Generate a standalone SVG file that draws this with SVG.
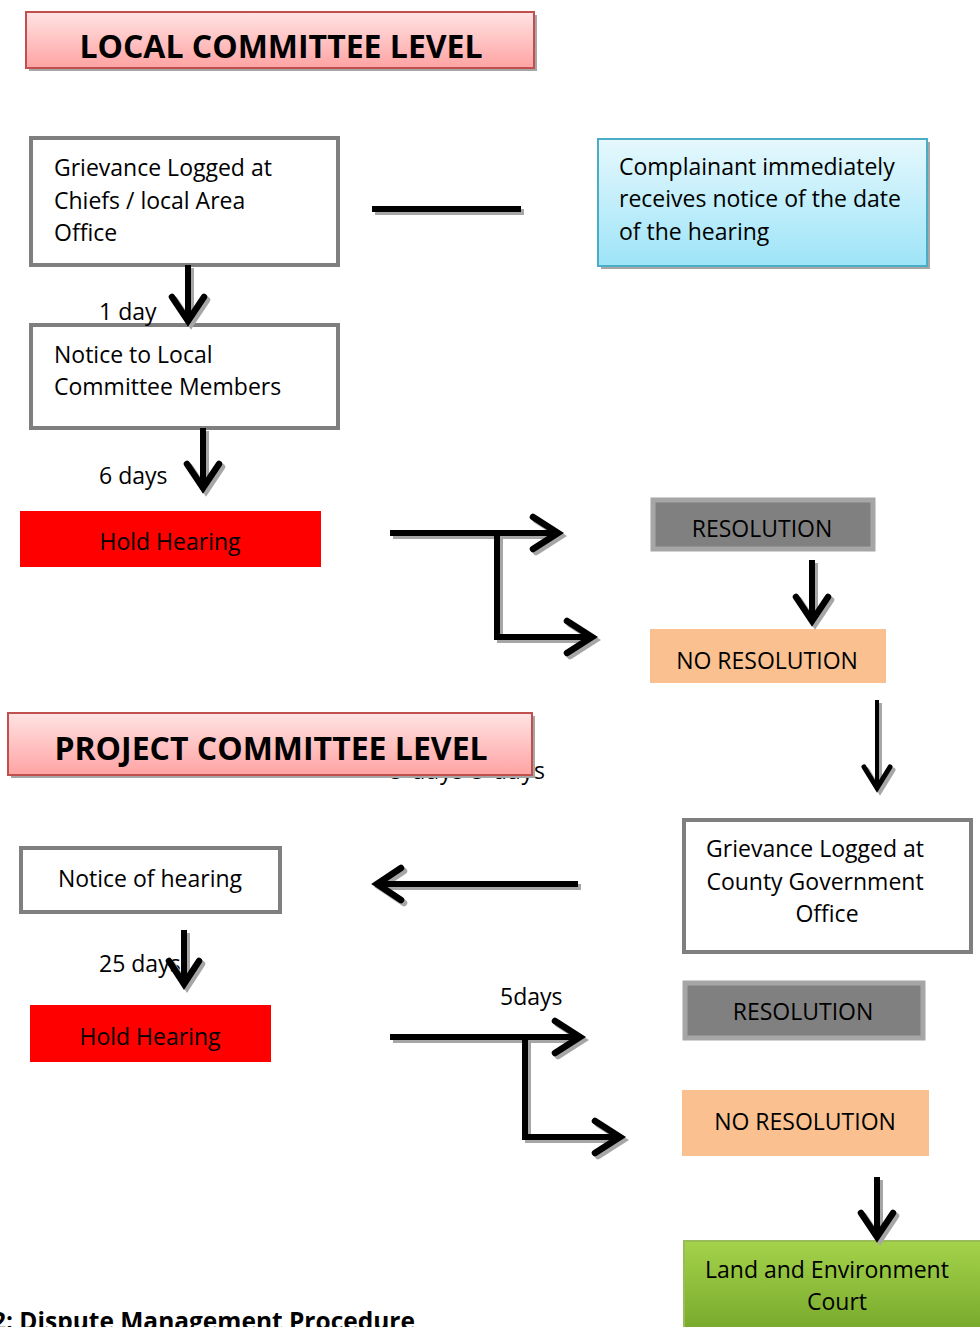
<svg xmlns="http://www.w3.org/2000/svg" width="980" height="1327" viewBox="0 0 980 1327">
<defs>
<linearGradient id="gPink" x1="0" y1="0" x2="0" y2="1"><stop offset="0" stop-color="#ffe3e3"/><stop offset="1" stop-color="#ffa3a3"/></linearGradient>
<linearGradient id="gCyan" x1="0" y1="0" x2="0" y2="1"><stop offset="0" stop-color="#e6f8fd"/><stop offset="1" stop-color="#9de4f8"/></linearGradient>
<linearGradient id="gGreen" x1="0" y1="0" x2="0" y2="1"><stop offset="0" stop-color="#a4d24a"/><stop offset="1" stop-color="#78a92c"/></linearGradient>
<style>
text{font-family:"Open Sans","Liberation Sans",sans-serif;fill:#000;font-size:23px}
.hdr{font-weight:bold;font-size:32px}
.cap{font-weight:bold;font-size:24.5px}
.mid{text-anchor:middle}
.gbox{fill:#fff;stroke:#7f7f7f;stroke-width:4}
.shadow{fill:#a6a6a6}
.hbox{fill:url(#gPink);stroke:#c0504d;stroke-width:2}
.res{fill:#808080;stroke:#a6a6a6;stroke-width:5}
.nores{fill:#fac090}
.red{fill:#ff0000}
.ink{fill:none;stroke:#000;stroke-width:6;stroke-linejoin:miter;stroke-linecap:butt}
.sh{fill:none;stroke:#a6a6a6;stroke-width:6;stroke-linejoin:miter;stroke-linecap:butt}
.head{stroke-linecap:round;stroke-width:6.5}
</style>
</defs>
<rect width="980" height="1327" fill="#fff"/>

<g id="hdr-local">
<rect class="shadow" x="29" y="15" width="508" height="56"/>
<rect class="hbox" x="26" y="12" width="508" height="56"/>
<text class="hdr mid" x="281" y="58">LOCAL COMMITTEE LEVEL</text>
</g>

<g id="n-grievance-local">
<rect class="gbox" x="31" y="138" width="307" height="127"/>
<text x="54" y="176">Grievance Logged at</text>
<text x="54" y="209">Chiefs / local Area</text>
<text x="54" y="241">Office</text>
</g>

<g id="n-complainant">
<rect class="shadow" x="601" y="142" width="329" height="127"/>
<rect x="598" y="139" width="329" height="127" fill="url(#gCyan)" stroke="#4bacc6" stroke-width="2"/>
<text x="619" y="175">Complainant immediately</text>
<text x="619" y="207">receives notice of the date</text>
<text x="619" y="240">of the hearing</text>
</g>

<g id="n-notice-local">
<rect class="gbox" x="31" y="325" width="307" height="103"/>
<text x="54" y="363">Notice to Local</text>
<text x="54" y="395">Committee Members</text>
</g>

<g id="n-hold1">
<rect class="red" x="20" y="511" width="301" height="56"/>
<text class="mid" x="170" y="550">Hold Hearing</text>
</g>

<g id="n-res1">
<rect class="res" x="653" y="500" width="220" height="49"/>
<text class="mid" x="762" y="537">RESOLUTION</text>
</g>

<g id="n-nores1">
<rect class="nores" x="650" y="629" width="236" height="54"/>
<text class="mid" x="767" y="669">NO RESOLUTION</text>
</g>

<g id="lbl-hidden">
<text x="390" y="779" textLength="155" lengthAdjust="spacing">5 days   5 days</text>
</g>

<g id="hdr-project">
<rect class="shadow" x="11" y="716" width="524" height="62"/>
<rect class="hbox" x="8" y="713" width="524" height="62"/>
<text class="hdr mid" x="271" y="760">PROJECT COMMITTEE LEVEL</text>
</g>

<g id="n-notice-hearing">
<rect class="gbox" x="21" y="848" width="259" height="64"/>
<text class="mid" x="150" y="887">Notice of hearing</text>
</g>

<g id="n-grievance-county">
<rect class="gbox" x="684" y="820" width="287" height="132"/>
<text class="mid" x="815" y="857">Grievance Logged at</text>
<text class="mid" x="815" y="890">County Government</text>
<text class="mid" x="827" y="922">Office</text>
</g>

<g id="n-hold2">
<rect class="red" x="30" y="1005" width="241" height="57"/>
<text class="mid" x="150" y="1045">Hold Hearing</text>
</g>

<g id="n-res2">
<rect class="res" x="685" y="983" width="238" height="55"/>
<text class="mid" x="803" y="1020">RESOLUTION</text>
</g>

<g id="n-nores2">
<rect class="nores" x="682" y="1090" width="247" height="66"/>
<text class="mid" x="805" y="1130">NO RESOLUTION</text>
</g>

<g id="n-court">
<rect x="684" y="1241" width="300" height="90" fill="url(#gGreen)" stroke="#9bbb59" stroke-width="2"/>
<text x="705" y="1278">Land and Environment</text>
<text class="mid" x="837" y="1310">Court</text>
</g>

<g id="labels">
<text x="99" y="320">1 day</text>
<text x="99" y="484">6 days</text>
<text x="99" y="972">25 days</text>
<text x="500" y="1005">5days</text>
</g>

<g id="connectors">
<g transform="translate(3,3)">
<path class="sh" d="M188,265 V319"/><path class="sh head" d="M172,297 L188,321 L204,297"/>
<path class="sh" d="M203,428 V485"/><path class="sh head" d="M187,464 L203,488 L219,464"/>
<path class="sh" d="M372,209 H521" stroke-width="5"/>
<path class="sh" d="M390,533 H556 M497,533 V637 H590"/>
<path class="sh head" d="M533,517 L558,533 L533,549 M567,621 L592,637 L567,653"/>
<path class="sh" d="M812,560 V617"/><path class="sh head" d="M796,597 L812,621 L828,597"/>
<path class="sh" d="M877,700 V785" style="stroke-width:4"/><path class="sh head" d="M864,767 L877,788 L890,767" style="stroke-width:5"/>
<path class="sh" d="M578,884 H381"/><path class="sh head" d="M401,868 L377,884 L401,900"/>
<path class="sh" d="M184,930 V980"/><path class="sh head" d="M169,961 L184,984 L199,961"/>
<path class="sh" d="M390,1037 H576 M525,1040 V1137 H616"/>
<path class="sh head" d="M555,1021 L580,1037 L555,1053 M595,1121 L620,1137 L595,1153"/>
<path class="sh" d="M877,1177 V1233"/><path class="sh head" d="M861,1213 L877,1237 L893,1213"/>
</g>
<g>
<path class="ink" d="M188,265 V319"/><path class="ink head" d="M172,297 L188,321 L204,297"/>
<path class="ink" d="M203,428 V485"/><path class="ink head" d="M187,464 L203,488 L219,464"/>
<path class="ink" d="M372,209 H521" stroke-width="5"/>
<path class="ink" d="M390,533 H556 M497,533 V637 H590"/>
<path class="ink head" d="M533,517 L558,533 L533,549 M567,621 L592,637 L567,653"/>
<path class="ink" d="M812,560 V617"/><path class="ink head" d="M796,597 L812,621 L828,597"/>
<path class="ink" d="M877,700 V785" style="stroke-width:4"/><path class="ink head" d="M864,767 L877,788 L890,767" style="stroke-width:5"/>
<path class="ink" d="M578,884 H381"/><path class="ink head" d="M401,868 L377,884 L401,900"/>
<path class="ink" d="M184,930 V980"/><path class="ink head" d="M169,961 L184,984 L199,961"/>
<path class="ink" d="M390,1037 H576 M525,1040 V1137 H616"/>
<path class="ink head" d="M555,1021 L580,1037 L555,1053 M595,1121 L620,1137 L595,1153"/>
<path class="ink" d="M877,1177 V1233"/><path class="ink head" d="M861,1213 L877,1237 L893,1213"/>
</g>
</g>

<g id="caption">
<text class="cap" x="-8" y="1330">2: Dispute Management Procedure</text>
</g>
</svg>
